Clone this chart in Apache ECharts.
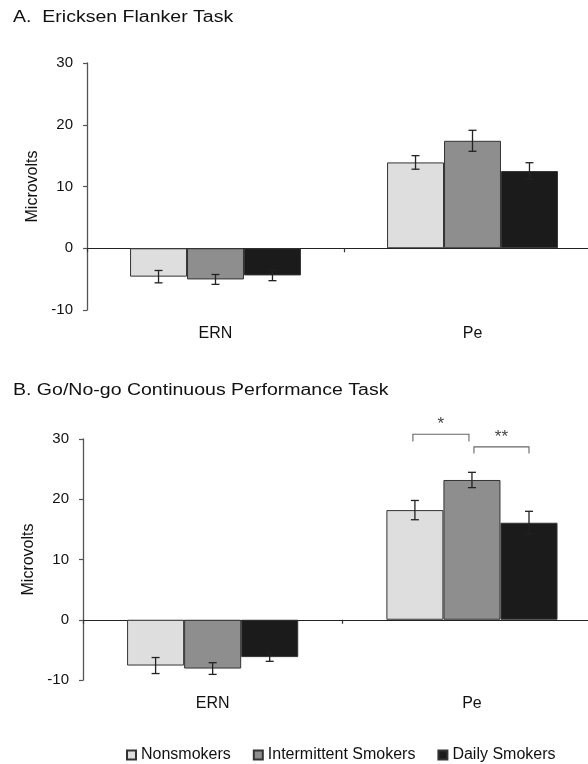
<!DOCTYPE html>
<html>
<head>
<meta charset="utf-8">
<script src="https://cdn.jsdelivr.net/npm/echarts@6/dist/echarts.min.js"></script>
<style>
html,body{margin:0;padding:0;background:#fff;}
#chart{width:588px;height:764px;}
</style>
</head>
<body>
<div id="chart"></div>
<script>
// ---- data ----
const categories = ['ERN', 'Pe'];
const groups = ['Nonsmokers', 'Intermittent Smokers', 'Daily Smokers'];
const yTicks = [-10, 0, 10, 20, 30];

// A. Ericksen Flanker Task
const flankerNon = [-4.6, 13.9];
const flankerInt = [-5.05, 17.4];
const flankerDaily = [-4.4, 12.5];
const flankerNonErr = [1.0, 1.1];
const flankerIntErr = [0.8, 1.7];
const flankerDailyErr = [0.85, 1.35];

// B. Go/No-go Continuous Performance Task
const gonogoNon = [-7.6, 18.2];
const gonogoInt = [-8.1, 23.2];
const gonogoDaily = [-6.2, 16.1];
const gonogoNonErr = [1.33, 1.6];
const gonogoIntErr = [0.97, 1.27];
const gonogoDailyErr = [0.7, 1.9];

// significance brackets (panel B, Pe category)
const sigCategory = [1, 1];
const sigFrom = [0, 1];
const sigTo = [1, 2];
const sigLevel = [30.8, 28.7];
const sigDrop = [29.6, 27.6];
const sigLabel = ['*', '**'];

// ---- styling ----
const FONT = 'Liberation Sans, Arial, sans-serif';
const colors = ['#dedede', '#8e8e8e', '#1b1b1b'];
const gaps = [0.335, 0.34];

const chart = echarts.init(document.getElementById('chart'), null, {renderer: 'canvas'});

const grids = [
  {left: 87, top: 63, width: 514, height: 247},
  {left: 83, top: 439, width: 518.6, height: 241}
];

const means = [[flankerNon, flankerInt, flankerDaily], [gonogoNon, gonogoInt, gonogoDaily]];
const errs = [[flankerNonErr, flankerIntErr, flankerDailyErr], [gonogoNonErr, gonogoIntErr, gonogoDailyErr]];

const xAxes = [], yAxes = [], series = [];
for (let g = 0; g < 2; g++) {
  // label axis (bottom)
  xAxes.push({
    type: 'category', gridIndex: g, data: categories, position: 'bottom',
    axisLine: {show: false, onZero: false}, axisTick: {show: false},
    axisLabel: {fontFamily: FONT, fontSize: 16, color: '#111', margin: 16}
  });
  // zero line axis
  xAxes.push({
    type: 'category', gridIndex: g, data: categories, position: 'bottom',
    axisLine: {show: true, onZero: true, lineStyle: {color: '#222', width: 1.2}},
    axisTick: {show: true, length: 4, lineStyle: {color: '#333', width: 1.2}},
    axisLabel: {show: false}
  });
  yAxes.push({
    type: 'value', gridIndex: g, min: yTicks[0], max: yTicks[yTicks.length - 1], interval: 10,
    name: 'Microvolts', nameLocation: 'middle', nameGap: 36,
    nameTextStyle: {fontFamily: FONT, fontSize: 16, color: '#111'},
    axisLine: {show: true, lineStyle: {color: '#555', width: 1.3}},
    axisTick: {show: true, length: 4, lineStyle: {color: '#555', width: 1.2}},
    axisLabel: {fontFamily: FONT, fontSize: 15, color: '#111', margin: 14},
    splitLine: {show: false}
  });
  for (let s = 0; s < 3; s++) {
    series.push({
      type: 'bar', name: groups[s], xAxisIndex: g * 2, yAxisIndex: g,
      data: means[g][s], barGap: '0%', barCategoryGap: (gaps[g] * 100) + '%',
      itemStyle: {color: colors[s], borderColor: '#333', borderWidth: 1},
      emphasis: {disabled: true}, z: 2
    });
  }
  for (let s = 0; s < 3; s++) {
    const gap = gaps[g];
    series.push({
      type: 'custom', name: 'err' + g + s, xAxisIndex: g * 2, yAxisIndex: g, z: 5,
      data: categories.map((c, i) => [i, means[g][s][i], errs[g][s][i]]),
      renderItem: function (params, api) {
        const ci = api.value(0), m = api.value(1), e = api.value(2);
        const band = api.size([1, 0])[0];
        const bw = band * (1 - gap) / 3;
        const x = api.coord([ci, 0])[0] + (s - 1) * bw;
        const yTop = api.coord([ci, m + e])[1];
        const yBot = api.coord([ci, m - e])[1];
        const cap = 4;
        const st = {stroke: '#222', lineWidth: 1.3};
        return {type: 'group', children: [
          {type: 'line', shape: {x1: x, y1: yTop, x2: x, y2: yBot}, style: st},
          {type: 'line', shape: {x1: x - cap, y1: yTop, x2: x + cap, y2: yTop}, style: st},
          {type: 'line', shape: {x1: x - cap, y1: yBot, x2: x + cap, y2: yBot}, style: st}
        ]};
      },
      silent: true
    });
  }
}

// significance brackets
series.push({
  type: 'custom', xAxisIndex: 2, yAxisIndex: 1, z: 6, clip: false, silent: true,
  data: sigFrom.map((f, i) => [sigCategory[i], f, sigTo[i], sigLevel[i], sigDrop[i], i]),
  renderItem: function (params, api) {
    const ci = api.value(0), f = api.value(1), t = api.value(2);
    const lvl = api.value(3), drop = api.value(4), idx = api.value(5);
    const band = api.size([1, 0])[0];
    const bw = band * (1 - gaps[1]) / 3;
    const cx = api.coord([ci, 0])[0];
    const x1 = cx + (f - 1) * bw + (f === 0 ? -2 : 2);
    const x2 = cx + (t - 1) * bw + (t === 1 ? -3 : 0);
    const y = api.coord([ci, lvl])[1];
    const yd = api.coord([ci, drop])[1];
    const st = {stroke: '#666', lineWidth: 1.1, fill: null};
    return {type: 'group', children: [
      {type: 'polyline', shape: {points: [[x1, yd], [x1, y], [x2, y], [x2, yd]]}, style: st},
      {type: 'text', style: {text: sigLabel[idx], x: (x1 + x2) / 2, y: y - 1, align: 'center', verticalAlign: 'bottom',
        font: '17px ' + FONT, fill: '#444'}}
    ]};
  }
});

const option = {
  animation: false,
  backgroundColor: '#fff',
  grid: grids.map(g => Object.assign({containLabel: false, outerBoundsMode: 'none'}, g)),
  xAxis: xAxes,
  yAxis: yAxes,
  legend: {
    data: groups, left: 126, top: 747, padding: 0, icon: 'rect', itemWidth: 9, itemHeight: 9, itemGap: 22,
    textStyle: {fontFamily: FONT, fontSize: 16, color: '#111'}, selectedMode: false
  },
  graphic: [
    {type: 'text', x: 13, y: 18, scaleX: 1.22,
      style: {text: 'A.  Ericksen Flanker Task', x: 0, y: 0, font: '16px ' + FONT, fill: '#111',
        textAlign: 'left', textVerticalAlign: 'middle', align: 'left', verticalAlign: 'middle'}},
    {type: 'text', x: 13, y: 391, scaleX: 1.22,
      style: {text: 'B. Go/No-go Continuous Performance Task', x: 0, y: 0, font: '16px ' + FONT, fill: '#111',
        textAlign: 'left', textVerticalAlign: 'middle', align: 'left', verticalAlign: 'middle'}}
  ],
  series: series
};
chart.setOption(option);
</script>
</body>
</html>
